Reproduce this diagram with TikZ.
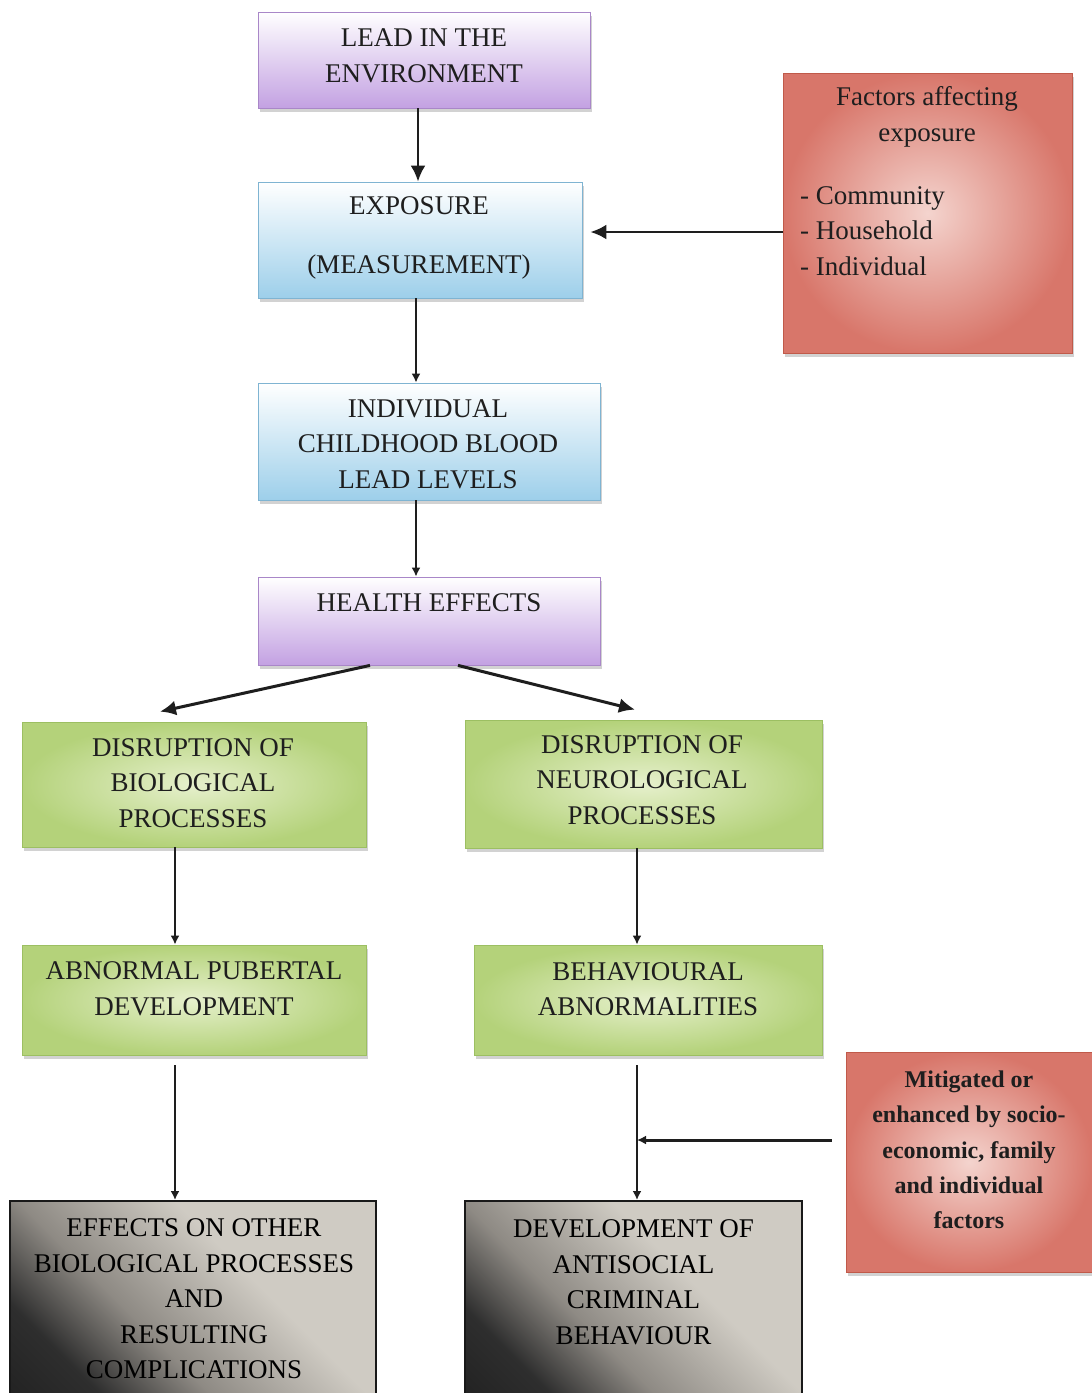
\documentclass[tikz,border=0pt]{standalone}
\usepackage{fontspec}
\setmainfont{Liberation Serif}
\usetikzlibrary{arrows.meta,shadows,calc}
\definecolor{lilac}{HTML}{C3A1E2}
\definecolor{lilacdk}{HTML}{A987C8}
\definecolor{skyb}{HTML}{9DCFEA}
\definecolor{skybdk}{HTML}{7FB4D2}
\definecolor{leaf}{HTML}{B4D27A}
\definecolor{leaflt}{HTML}{E6F0CC}
\definecolor{leafdk}{HTML}{9CBF62}
\definecolor{salmon}{HTML}{D8766A}
\definecolor{salmonlt}{HTML}{F4D4CE}
\definecolor{salmondk}{HTML}{C05A4A}
\definecolor{stone}{HTML}{CFCBC3}
\definecolor{stonedk}{HTML}{8E8A84}
\definecolor{ink}{HTML}{1E1E1E}
% grey plate that darkens softly towards one corner
\pgfdeclareverticalshading{darkcorner}{100bp}{color(0bp)=(black!92); color(26bp)=(black!82);
  color(40bp)=(stonedk); color(60bp)=(stone); color(100bp)=(stone)}
\begin{document}
\begin{tikzpicture}[x=1pt,y=-1pt,
  boxbase/.style={rectangle, inner sep=0pt, line width=0.8pt,
    drop shadow={shadow xshift=2pt, shadow yshift=-4pt, opacity=0.35}},
  purplebox/.style={boxbase, draw=lilacdk, top color=white, bottom color=lilac},
  bluebox/.style={boxbase, draw=skybdk, top color=white, bottom color=skyb},
  greenbox/.style={boxbase, draw=leafdk, inner color=leaflt, outer color=leaf},
  redbox/.style={boxbase, draw=salmondk, inner color=salmonlt, outer color=salmon},
  darkbox/.style={rectangle, inner sep=0pt, line width=2pt, draw=black!90,
    shading=darkcorner, shading angle=-45},
  txt/.style={align=center, inner sep=0pt, text=ink,
    font=\fontsize{27}{35.5}\selectfont},
  sidetxt/.style={align=center, inner sep=0pt, text=ink,
    font=\fontsize{24}{35.3}\selectfont\bfseries},
  link/.style={line width=2.6pt, draw=ink, -{Latex[length=16pt,width=15pt]}},
  thinlink/.style={line width=2.4pt, draw=ink, -{Latex[length=9pt,width=9pt]}}
]
\useasboundingbox[fill=white] (0,0) rectangle (1092,1393);

% boxes
\node[purplebox, minimum width=332pt, minimum height=96pt] (lead) at (424,60) {};
\node[bluebox, minimum width=324pt, minimum height=116pt] (expo) at (420,240) {};
\node[redbox, minimum width=289pt, minimum height=280pt] (factors) at (927.5,213) {};
\node[bluebox, minimum width=342pt, minimum height=117pt] (indiv) at (429,441.5) {};
\node[purplebox, minimum width=342pt, minimum height=88pt] (health) at (429,621) {};
\node[greenbox, minimum width=344pt, minimum height=125pt] (bio) at (194,784.5) {};
\node[greenbox, minimum width=357pt, minimum height=128pt] (neuro) at (643.5,784) {};
\node[greenbox, minimum width=344pt, minimum height=110pt] (puberty) at (194,1000) {};
\node[greenbox, minimum width=348pt, minimum height=110pt] (behav) at (648,1000) {};
\node[redbox, minimum width=246pt, minimum height=220pt] (mitig) at (969,1162) {};
\node[darkbox, minimum width=366pt, minimum height=194pt] (effects) at (193,1298) {};
\node[darkbox, minimum width=337pt, minimum height=194pt] (devel) at (633.5,1298) {};

% box texts
\node[txt] (lead-t) at (424,56) {LEAD IN THE\\ENVIRONMENT};
\node[txt] (expo-t) at (419,238) {EXPOSURE\\[24pt](MEASUREMENT)};
\node[txt] (factors-t) at (927,117) {Factors affecting\\exposure};
\node[txt, align=left, anchor=west] (factors-l) at (800,231) {- Community\\- Household\\- Individual};
\node[txt] (indiv-t) at (428,444) {INDIVIDUAL\\CHILDHOOD BLOOD\\LEAD LEVELS};
\node[txt] (health-t) at (429,603) {HEALTH EFFECTS};
\node[txt] (bio-t) at (193,783) {DISRUPTION OF\\BIOLOGICAL\\PROCESSES};
\node[txt] (neuro-t) at (642,780) {DISRUPTION OF\\NEUROLOGICAL\\PROCESSES};
\node[txt] (puberty-t) at (194,989) {ABNORMAL PUBERTAL\\DEVELOPMENT};
\node[txt] (behav-t) at (648,989) {BEHAVIOURAL\\ABNORMALITIES};
\node[sidetxt] (mitig-t) at (969,1150) {Mitigated or\\enhanced by socio-\\economic, family\\and individual\\factors};
\node[txt, text=black] (effects-t) at (194,1299) {EFFECTS ON OTHER\\BIOLOGICAL PROCESSES\\AND\\RESULTING\\COMPLICATIONS};
\node[txt, text=black] (devel-t) at (633.5,1282) {DEVELOPMENT OF\\ANTISOCIAL\\CRIMINAL\\BEHAVIOUR};

% connector columns
\coordinate (c1) at (418,0);
\coordinate (c2) at (416,0);
\coordinate (cl) at (175,0);
\coordinate (cr) at (637,0);
\coordinate (join) at (637,1140);

% connectors
\draw[link] (lead.south -| c1) -- (expo.north -| c1);
\draw[link] (factors.west |- 0,232) -- ($(expo.east |- 0,232)+(8,0)$);
\draw[thinlink] (expo.south -| c2) -- (indiv.north -| c2);
\draw[thinlink] (indiv.south -| c2) -- (health.north -| c2);
\draw[link, line width=3pt] ($(health.south)+(-59,0)$) -- ($(bio.north)+(-34,-10)$);
\draw[link, line width=3pt] ($(health.south)+(29,0)$) -- ($(neuro.north)+(-8.5,-10)$);
\draw[thinlink] (bio.south -| cl) -- (puberty.north -| cl);
\draw[thinlink] (neuro.south -| cr) -- (behav.north -| cr);
\draw[thinlink] ($(puberty.south -| cl)+(0,10)$) -- (effects.north -| cl);
\draw[thinlink] ($(behav.south -| cr)+(0,10)$) -- (devel.north -| cr);
\draw[thinlink, line width=3pt] ($(mitig.west |- join)+(-14,0)$) -- (join);
\end{tikzpicture}
\end{document}
